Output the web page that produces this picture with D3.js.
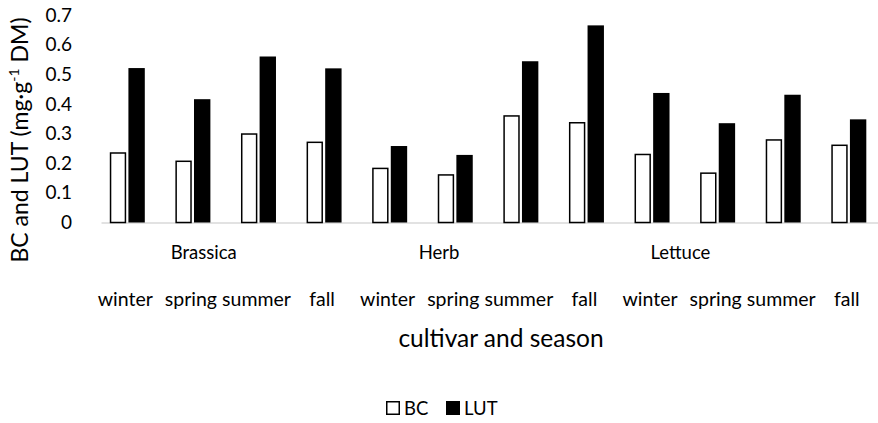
<!DOCTYPE html>
<html>
<head>
<meta charset="utf-8">
<script src="https://cdn.jsdelivr.net/npm/d3@7"></script>
<style>
  body { margin: 0; background: #fff; }
  svg { font-family: Lato, "Noto Sans", sans-serif; }
</style>
</head>
<body>
<div id="chart"></div>
<script>
// data
var cultivars = ["Brassica", "Herb", "Lettuce"];
var seasons = ["winter", "spring", "summer", "fall"];
var series = ["BC", "LUT"];
var bcValues  = [0.237, 0.209, 0.301, 0.273, 0.185, 0.163, 0.362, 0.339, 0.232, 0.169, 0.281, 0.263];
var lutValues = [0.521, 0.416, 0.560, 0.520, 0.258, 0.228, 0.544, 0.665, 0.437, 0.335, 0.431, 0.348];
var yTicks = [0, 0.1, 0.2, 0.3, 0.4, 0.5, 0.6, 0.7];

var width = 878, height = 423;

// one row per bar group
var rows = [];
cultivars.forEach(function(c, ci) {
  seasons.forEach(function(s, si) {
    var i = ci * seasons.length + si;
    rows.push({key: c + "-" + s, cultivar: c, season: s, BC: bcValues[i], LUT: lutValues[i]});
  });
});

var svg = d3.select("#chart")
  .append("svg")
  .attr("width", width)
  .attr("height", height);

var x = d3.scaleBand()
  .domain(rows.map(function(d) { return d.key; }))
  .range([94.5, 881.6]);

var x1 = d3.scaleBand()
  .domain(series)
  .range([-17.5, 17.5])
  .paddingInner(0.12);

var y = d3.scaleLinear()
  .domain([0, 0.7])
  .range([222.5, 15]);

//axis line
svg.append("line")
  .attr("x1", 101.5)
  .attr("x2", width)
  .attr("y1", y(0) + 0.5)
  .attr("y2", y(0) + 0.5)
  .attr("stroke", "#d9d9d9")
  .attr("stroke-width", 1.5);

//y axis, labels only
var yAxis = d3.axisLeft(y)
  .tickValues(yTicks)
  .tickSize(0)
  .tickPadding(0)
  .tickFormat(function(d) { return d === 0 ? "0" : d3.format(".1f")(d); });

var gy = svg.append("g")
  .attr("transform", "translate(72,0)")
  .call(yAxis);
gy.select(".domain").remove();
gy.selectAll("text")
  .attr("font-family", "Lato, sans-serif")
  .attr("font-size", 19)
  .attr("fill", "#000");

//bars
var groups = svg.selectAll(".grp")
  .data(rows)
  .enter()
  .append("g")
  .attr("class", "grp")
  .attr("transform", function(d) { return "translate(" + (x(d.key) + x.bandwidth() / 2) + ",0)"; });

groups.selectAll("rect")
  .data(function(d) { return series.map(function(s) { return {s: s, v: d[s]}; }); })
  .enter()
  .append("rect")
  .attr("x", function(d) { return x1(d.s) + (d.s === "BC" ? 0.75 : 0); })
  .attr("y", function(d) { return y(d.v) + (d.s === "BC" ? 0.75 : 0); })
  .attr("width", function(d) { return x1.bandwidth() - (d.s === "BC" ? 1.5 : 0); })
  .attr("height", function(d) { return y(0) - y(d.v) - (d.s === "BC" ? 0.75 : 0); })
  .attr("fill", function(d) { return d.s === "BC" ? "#fff" : "#000"; })
  .attr("stroke", "#000")
  .attr("stroke-width", function(d) { return d.s === "BC" ? 1.5 : 0; });

//season labels
svg.selectAll(".season")
  .data(rows)
  .enter()
  .append("text")
  .attr("class", "season")
  .attr("x", function(d) { return x(d.key) + x.bandwidth() / 2 - 2; })
  .attr("y", 306)
  .attr("text-anchor", "middle")
  .attr("font-size", 19.5)
  .text(function(d) { return d.season; });

//cultivar labels (excel puts them a bit left of the group centre)
var cultivarShift = [-22, -49, -70];
svg.selectAll(".cultivar")
  .data(cultivars)
  .enter()
  .append("text")
  .attr("class", "cultivar")
  .attr("x", function(d, i) {
    var first = x(d + "-" + seasons[0]);
    return first + 2 * x.bandwidth() + cultivarShift[i];
  })
  .attr("y", 259)
  .attr("text-anchor", "middle")
  .attr("font-size", 18.5)
  .text(function(d) { return d; });

//axis titles
svg.append("text")
  .attr("x", 501)
  .attr("y", 347)
  .attr("text-anchor", "middle")
  .attr("font-size", 24.5)
  .text("cultivar and season");

var yTitle = svg.append("text")
  .attr("transform", "translate(28,140) rotate(-90)")
  .attr("text-anchor", "middle")
  .attr("font-size", 23);
yTitle.append("tspan").text("BC and LUT (mg·g");
yTitle.append("tspan").attr("dy", -9).attr("font-size", 14).text("-1");
yTitle.append("tspan").attr("dy", 9).text(" DM)");

//legend
var legend = svg.append("g")
  .attr("transform", "translate(386,401)");

var li = legend.selectAll("g")
  .data(series)
  .enter()
  .append("g")
  .attr("transform", function(d, i) { return "translate(" + (i * 60) + ",0)"; });

li.append("rect")
  .attr("x", 0.75)
  .attr("y", 0.75)
  .attr("width", 12.5)
  .attr("height", 12.5)
  .attr("fill", function(d) { return d === "BC" ? "#fff" : "#000"; })
  .attr("stroke", "#000")
  .attr("stroke-width", 1.5);

li.append("text")
  .attr("x", 18)
  .attr("y", 14)
  .attr("font-size", 18.5)
  .text(function(d) { return d; });
</script>
</body>
</html>
